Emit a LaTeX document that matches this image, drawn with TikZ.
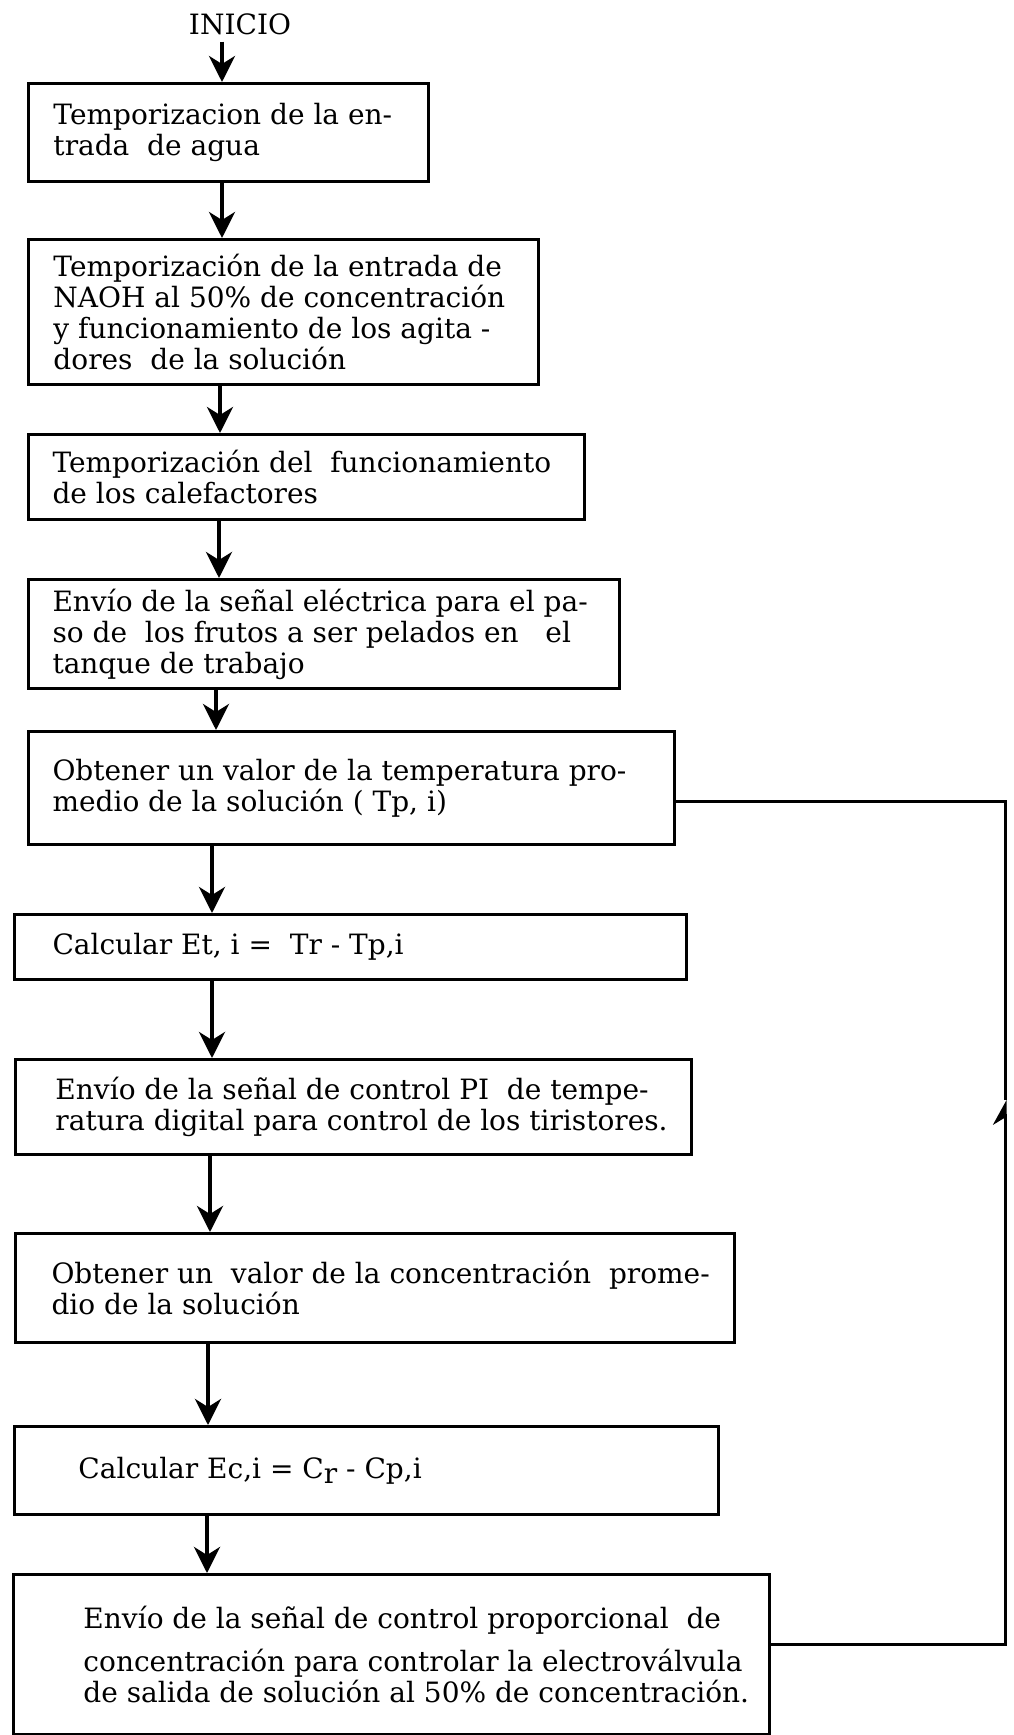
\documentclass[tikz,border=0pt]{standalone}
\usepackage{fontspec}
\setmainfont{DejaVu Serif}
\usetikzlibrary{
	arrows.meta		% Stealth style arrow heads
}
% Text of a box, set in from the left border by #2, with #1 of space below it
\newcommand{\steptext}[3][0pt]{\leftskip=#2 #3\\[#1]}

\begin{document}
\begin{tikzpicture}[
		x=0.5pt, y=-0.5pt
		, stepbox/.style={draw, line width=1.5pt, anchor=north west, align=flush left,
			inner xsep=0pt, inner ysep=2pt, font=\fontsize{14}{15.5}\selectfont}
		, flow/.style={-{Stealth[length=13pt, width=13pt, inset=4pt]}, line width=2pt}
		, back/.style={line width=1.5pt}
	]
	\useasboundingbox (0,0) rectangle (1013,1735);

	% Start label
	\node[font=\fontsize{14}{15}\selectfont] (inicio) at (240,24) {INICIO};

	% The steps of the process, top to bottom
	\node[stepbox, text width=200pt, minimum height=49pt] (agua) at (27,82)
		{\steptext{12.5pt}{Temporizacion de la en-\\trada~ de agua}};
	\node[stepbox, text width=255pt, minimum height=72.5pt] (naoh) at (27,238)
		{\steptext{12.5pt}{Temporización de la entrada de\\NAOH al 50\% de concentración\\y funcionamiento de los agita -\\dores~ de la solución}};
	\node[stepbox, text width=278pt, minimum height=42.5pt] (calef) at (27,433)
		{\steptext{12pt}{Temporización del~ funcionamiento\\de los calefactores}};
	\node[stepbox, text width=295.5pt, minimum height=54.5pt] (frutos) at (27,578)
		{\steptext{12pt}{Envío de la señal eléctrica para el pa-\\so de~ los frutos a ser pelados en~~ el\\tanque de trabajo}};
	\node[stepbox, text width=323pt, minimum height=56.5pt] (tempmed) at (27,730)
		{\steptext[8pt]{12pt}{Obtener un valor de la temperatura pro-\\medio de la solución ( Tp, i)}};
	\node[stepbox, text width=336pt, minimum height=32.5pt] (errtemp) at (13,913)
		{\steptext{19pt}{Calcular Et, i = ~Tr - Tp,i}};
	\node[stepbox, text width=338pt, minimum height=47.5pt] (ctrltemp) at (14,1058)
		{\steptext{20pt}{Envío de la señal de control PI~ de tempe-\\ratura digital para control de los tiristores.}};
	\node[stepbox, text width=359.5pt, minimum height=54.5pt] (concmed) at (14,1232)
		{\steptext[4pt]{18pt}{Obtener un~ valor de la concentración~ prome-\\dio de la solución}};
	\node[stepbox, text width=352pt, minimum height=44pt] (errconc) at (13,1425)
		{\steptext{32pt}{Calcular Ec,i = C\raisebox{-0.35ex}{r} - Cp,i}};
	\node[stepbox, text width=378pt, minimum height=80pt] (ctrlconc) at (12,1573)
		{\steptext{35pt}{Envío de la señal de control proporcional~ de\\[6pt]concentración para controlar la electroválvula\\de salida de solución al 50\% de concentración.}};

	% Arrows from one step to the next
	\draw[flow] (inicio.south -| 222,0) -- (agua.north -| 222,0);
	\foreach \from/\to/\col in {agua/naoh/222, naoh/calef/220, calef/frutos/219, frutos/tempmed/216,
		tempmed/errtemp/212, errtemp/ctrltemp/212, ctrltemp/concmed/210, concmed/errconc/208, errconc/ctrlconc/207} {
		\coordinate (col) at (\col,0);
		\draw[flow] (\from.south -| col) -- (\to.north -| col);
	};

	% Return line from the last step back to the temperature reading
	\coordinate (ret) at (1005,0);
	\coordinate (retmid) at (1005,1100);
	\draw[back, -{Stealth[harpoon, length=11pt, width=12pt]}] ([yshift=5pt]ctrlconc.east) -- ([yshift=5pt]ctrlconc.east -| ret) -- (retmid);
	\draw[back] (retmid) -- ([yshift=-6.75pt]tempmed.east -| ret) -- ([yshift=-6.75pt]tempmed.east);
\end{tikzpicture}
\end{document}
